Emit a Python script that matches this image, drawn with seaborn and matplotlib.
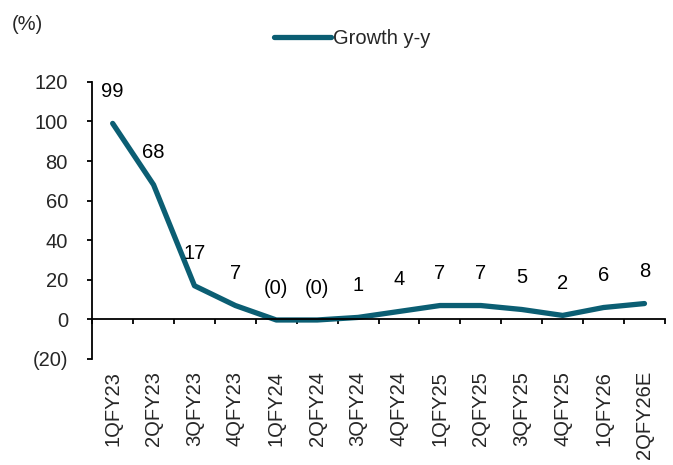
import matplotlib
matplotlib.use("Agg")
import matplotlib.pyplot as plt
import seaborn as sns
import pandas as pd
import numpy as np
from matplotlib.ticker import FixedLocator

quarters = ["1QFY23", "2QFY23", "3QFY23", "4QFY23", "1QFY24", "2QFY24", "3QFY24",
            "4QFY24", "1QFY25", "2QFY25", "3QFY25", "4QFY25", "1QFY26", "2QFY26E"]
growth = [99, 68, 17, 7, -0.3, -0.3, 1, 4, 7, 7, 5, 2, 6, 8]
point_labels = ["99", "68", "17", "7", "(0)", "(0)", "1", "4", "7", "7", "5", "2", "6", "8"]
yticks = [-20, 0, 20, 40, 60, 80, 100, 120]
ytick_labels = ["(20)", "0", "20", "40", "60", "80", "100", "120"]

sns.set_theme(style="white")
plt.rcParams['font.family'] = ['Liberation Sans', 'DejaVu Sans']

df = pd.DataFrame({"Quarter": quarters, "Growth y-y": growth})
color = "#0b5e73"
fs = 14.5

fig = plt.figure(figsize=(6.73, 4.65), dpi=100)
ax = fig.add_axes([0.137, 0.228, 0.851, 0.596])
sns.lineplot(data=df, x="Quarter", y="Growth y-y", ax=ax, color=color,
             linewidth=3.8, sort=False, label="Growth y-y", solid_capstyle="round")

for i, (v, t) in enumerate(zip(growth, point_labels)):
    ax.annotate(t, (i, v), xytext=(0, 23), textcoords="offset points",
                ha="center", va="center", fontsize=fs, color="black")

# spines first (set_position resets axis properties)
for s in ["top", "right"]:
    ax.spines[s].set_visible(False)
ax.spines["bottom"].set_position(("data", 0))
ax.spines["bottom"].set_color("black")
ax.spines["bottom"].set_linewidth(1.3)
ax.spines["left"].set_color("black")
ax.spines["left"].set_linewidth(1.3)

ax.set_xlim(-0.5, len(quarters) - 0.5)
ax.set_ylim(-20, 120)
ax.set_yticks(yticks)
ax.set_yticklabels(ytick_labels, fontsize=fs)
ax.set_xticks(range(len(quarters)))
ax.set_xticklabels(quarters, rotation=90, fontsize=fs, va="top", ha="center")
ax.xaxis.set_minor_locator(FixedLocator(np.arange(-0.5, len(quarters), 1.0)))
ax.tick_params(axis="x", which="major", length=0, pad=37, bottom=True)
ax.tick_params(axis="x", which="minor", length=3.5, width=1.3, color="black", direction="out", bottom=True)
ax.tick_params(axis="y", length=3.5, width=1.3, color="black", direction="out", left=True, pad=14)
ax.set_xlabel("")
ax.set_ylabel("")

leg = ax.legend(loc="center left", bbox_to_anchor=(0.407, 0.918), bbox_transform=fig.transFigure,
                frameon=False, fontsize=fs, handlelength=2.85, handletextpad=0.1,
                borderaxespad=0, borderpad=0)

fig.text(0.018, 0.948, "(%)", fontsize=fs, ha="left", va="center")

fig.savefig("out.png", dpi=100)
